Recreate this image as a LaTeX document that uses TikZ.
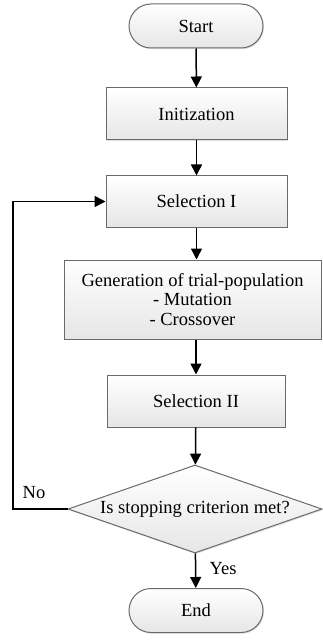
\documentclass[tikz,border=0pt]{standalone}
\usepackage{fontspec}
\setmainfont{Liberation Serif}
\usetikzlibrary{shapes.misc,shapes.geometric,arrows.meta,shadows}
\definecolor{boxline}{HTML}{6A6A6A}
\definecolor{boxbot}{HTML}{E6E6E6}
\begin{document}
\begin{tikzpicture}[x=1pt,y=-1pt,
  font=\fontsize{18.5}{19.5}\selectfont,
  base/.style={draw=boxline, line width=1pt, top color=white, bottom color=boxbot,
    drop shadow={shadow xshift=1pt, shadow yshift=-1.2pt, opacity=0.25},
    inner sep=0pt, align=center},
  procbox/.style={base, rectangle},
  termbox/.style={base, rounded rectangle, minimum width=134pt, minimum height=44pt},
  flow/.style={line width=1.5pt, -{Triangle[length=11pt,width=11pt]}}]
\useasboundingbox (0,0) rectangle (322,644);
\node[termbox] (start) at (196,26) {Start};
\node[procbox, minimum width=181pt, minimum height=52pt] (init) at (196.5,114) {Initization};
\node[procbox, minimum width=181pt, minimum height=51pt] (sel1) at (196.5,201.5) {Selection I};
\node[procbox, minimum width=257pt, minimum height=79pt] (gen) at (192.5,299.5)
  {Generation of trial-population\\- Mutation\\- Crossover};
\node[procbox, minimum width=178pt, minimum height=52pt] (sel2) at (196,401) {Selection II};
\node[base, diamond, aspect=2.886, minimum width=254pt, minimum height=88pt, inner sep=0pt] (dec) at (195,509) {};
\node at (dec.center) {Is stopping criterion met?};
\node[termbox] (end) at (196,610.5) {End};
\coordinate (lb) at (13,509);
\coordinate (lt) at (13,201.5);
\draw[flow] (start) -- (init);
\draw[flow] (init) -- (sel1);
\draw[flow] (sel1) -- (sel1|-gen.north);
\draw[flow] (gen.south-|sel2) -- (sel2);
\draw[flow] (sel2) -- (dec);
\draw[flow] (dec) -- (end);
\draw[flow] (dec.west) -- (lb) -- (lt) -- (sel1.west);
\node[anchor=base] (no) at (34,498) {No};
\node[anchor=base] (yes) at (223,574) {Yes};
\end{tikzpicture}
\end{document}
